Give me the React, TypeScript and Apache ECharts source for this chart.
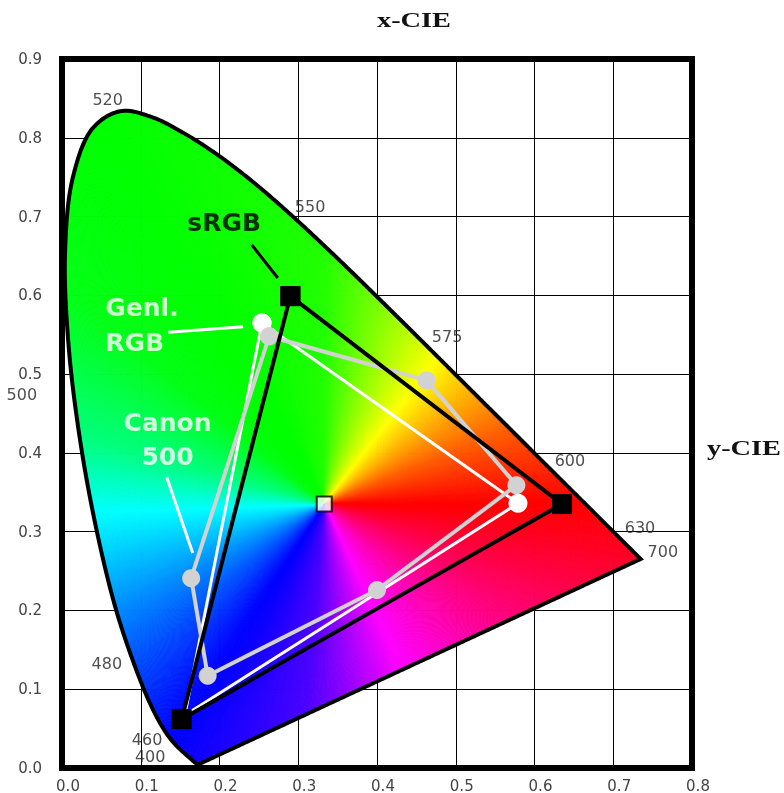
import React, { useEffect, useRef } from 'react';
import * as echarts from 'echarts';

// CIE 1931 spectral locus (5 nm steps, 380–700 nm)
const LOCUS_NM = [380,385,390,395,400,405,410,415,420,425,430,435,440,445,450,455,460,465,470,475,480,485,490,495,500,505,510,515,520,525,530,535,540,545,550,555,560,565,570,575,580,585,590,595,600,605,610,615,620,625,630,635,640,645,650,655,660,665,670,675,680,685,690,695,700];
const LOCUS_X = [0.1741,0.1740,0.1738,0.1736,0.1733,0.1730,0.1726,0.1721,0.1714,0.1703,0.1689,0.1669,0.1644,0.1611,0.1566,0.1510,0.1440,0.1355,0.1241,0.1096,0.0913,0.0687,0.0454,0.0235,0.0082,0.0039,0.0139,0.0389,0.0743,0.1142,0.1547,0.1929,0.2296,0.2658,0.3016,0.3373,0.3731,0.4087,0.4441,0.4788,0.5125,0.5448,0.5752,0.6029,0.6270,0.6482,0.6658,0.6801,0.6915,0.7006,0.7079,0.7140,0.7190,0.7230,0.7260,0.7283,0.7300,0.7311,0.7320,0.7327,0.7334,0.7340,0.7344,0.7346,0.7347];
const LOCUS_Y = [0.0050,0.0050,0.0049,0.0049,0.0048,0.0048,0.0048,0.0048,0.0051,0.0058,0.0069,0.0086,0.0109,0.0138,0.0177,0.0227,0.0297,0.0399,0.0578,0.0868,0.1327,0.2007,0.2950,0.4127,0.5384,0.6548,0.7502,0.8120,0.8338,0.8262,0.8059,0.7816,0.7543,0.7243,0.6923,0.6589,0.6245,0.5896,0.5547,0.5202,0.4866,0.4544,0.4242,0.3965,0.3725,0.3514,0.3340,0.3197,0.3083,0.2993,0.2920,0.2859,0.2809,0.2770,0.2740,0.2717,0.2700,0.2689,0.2680,0.2673,0.2666,0.2660,0.2656,0.2654,0.2653];

const WHITE_X = 0.333;
const WHITE_Y = 0.335;

// sRGB primaries (G, R, B)
const SRGB_X = [0.290, 0.635, 0.152];
const SRGB_Y = [0.599, 0.335, 0.062];

// Generic RGB (G, R, B)
const GENL_X = [0.254, 0.579, 0.156];
const GENL_Y = [0.565, 0.336, 0.067];

// Canon 500 (G, Y, R, M, B, C)
const CANON_X = [0.263, 0.463, 0.577, 0.400, 0.185, 0.164];
const CANON_Y = [0.548, 0.492, 0.359, 0.226, 0.117, 0.241];

// wavelength labels
const WL_TEXT = ['520', '550', '575', '600', '630', '700', '500', '480', '460', '400'];
const WL_X = [0.058, 0.315, 0.489, 0.645, 0.734, 0.763, -0.051, 0.057, 0.108, 0.112];
const WL_Y = [0.848, 0.713, 0.548, 0.390, 0.305, 0.275, 0.474, 0.133, 0.036, 0.014];

// annotation texts
const NOTE_TEXT = ['sRGB', 'Genl.', 'RGB', 'Canon', '500'];
const NOTE_X = [0.206, 0.055, 0.055, 0.134, 0.134];
const NOTE_Y = [0.692, 0.584, 0.540, 0.438, 0.396];
const NOTE_COLOR = ['#000', '#fff', '#fff', '#fff', '#fff'];
const NOTE_ALIGN = ['center', 'left', 'left', 'center', 'center'];

// pointer lines
const POINTER_X1 = [0.241, 0.135, 0.133];
const POINTER_Y1 = [0.664, 0.553, 0.369];
const POINTER_X2 = [0.274, 0.230, 0.166];
const POINTER_Y2 = [0.622, 0.560, 0.273];
const POINTER_COLOR = ['#000', '#fff', '#fff'];

const X_MIN = 0, X_MAX = 0.8, Y_MIN = 0, Y_MAX = 0.9, STEP = 0.1;

// hue as a function of angle around the white point
const HUE_STOPS: number[][] = [[0, 0], [22, 22], [52, 60], [90, 112], [140, 125], [165, 150], [182, 180], [235, 238], [265, 258], [295, 300], [360, 360]];

function hueAt(a: number) {
  for (let i = 1; i < HUE_STOPS.length; i++) {
    const [a0, h0] = HUE_STOPS[i - 1];
    const [a1, h1] = HUE_STOPS[i];
    if (a <= a1) return h0 + ((a - a0) / (a1 - a0)) * (h1 - h0);
  }
  return 360;
}

function hsvColor(h: number) {
  h = ((h % 360) + 360) % 360;
  const x = 1 - Math.abs(((h / 60) % 2) - 1);
  let r = 0, g = 0, b = 0;
  if (h < 60) { r = 1; g = x; }
  else if (h < 120) { r = x; g = 1; }
  else if (h < 180) { g = 1; b = x; }
  else if (h < 240) { g = x; b = 1; }
  else if (h < 300) { r = x; b = 1; }
  else { r = 1; b = x; }
  return `rgb(${Math.round(r * 255)},${Math.round(g * 255)},${Math.round(b * 255)})`;
}

// centripetal Catmull-Rom through pixel points (rendering only)
function smoothPath(p: number[][]) {
  const out: number[][] = [p[0]];
  const n = p.length;
  for (let i = 0; i < n - 1; i++) {
    const P0 = p[Math.max(0, i - 1)], P1 = p[i], P2 = p[i + 1], P3 = p[Math.min(n - 1, i + 2)];
    const d = (a: number[], b: number[]) => Math.pow(Math.hypot(b[0] - a[0], b[1] - a[1]), 0.5) + 1e-4;
    const t0 = 0, t1 = t0 + d(P0, P1), t2 = t1 + d(P1, P2), t3 = t2 + d(P2, P3);
    const len = Math.hypot(P2[0] - P1[0], P2[1] - P1[1]);
    const steps = Math.max(1, Math.ceil(len / 2));
    for (let s = 1; s <= steps; s++) {
      const t = t1 + ((t2 - t1) * s) / steps;
      const lerp = (A: number[], B: number[], ta: number, tb: number) => [
        ((tb - t) / (tb - ta)) * A[0] + ((t - ta) / (tb - ta)) * B[0],
        ((tb - t) / (tb - ta)) * A[1] + ((t - ta) / (tb - ta)) * B[1],
      ];
      const A1 = lerp(P0, P1, t0, t1), A2 = lerp(P1, P2, t1, t2), A3 = lerp(P2, P3, t2, t3);
      const B1 = lerp(A1, A2, t0, t2), B2 = lerp(A2, A3, t1, t3);
      out.push(lerp(B1, B2, t1, t2));
    }
  }
  return out;
}

function closed(xs: number[], ys: number[]) {
  const d = xs.map((x, i) => [x, ys[i]]);
  d.push([xs[0], ys[0]]);
  return d;
}

export default function App() {
  const ref = useRef<HTMLDivElement>(null);
  useEffect(() => {
    if (!ref.current) return;
    const chart = echarts.init(ref.current, undefined, { renderer: 'svg' });

    const gamutSeries = {
      type: 'custom',
      z: 1,
      silent: true,
      clip: false,
      data: [[WHITE_X, WHITE_Y]],
      renderItem: (_params: any, api: any) => {
        const raw = LOCUS_X.map((x, i) => api.coord([x, LOCUS_Y[i]]));
        const curve = smoothPath(raw);
        // straight line of purples back to the start
        const a = curve[curve.length - 1], b = curve[0];
        const plen = Math.hypot(b[0] - a[0], b[1] - a[1]);
        const pn = Math.ceil(plen / 2);
        const boundary = curve.slice();
        for (let k = 1; k <= pn; k++) boundary.push([a[0] + ((b[0] - a[0]) * k) / pn, a[1] + ((b[1] - a[1]) * k) / pn]);
        const w = api.coord([WHITE_X, WHITE_Y]);
        const children: any[] = [];
        for (let i = 0; i < boundary.length - 1; i++) {
          const p0 = boundary[i], p1 = boundary[i + 1];
          const mx = (p0[0] + p1[0]) / 2, my = (p0[1] + p1[1]) / 2;
          let ang = (Math.atan2(-(my - w[1]), mx - w[0]) * 180) / Math.PI;
          if (ang < 0) ang += 360;
          const c = hsvColor(hueAt(ang));
          children.push({
            type: 'polygon',
            shape: { points: [w, p0, p1] },
            style: { fill: c, stroke: c, lineWidth: 1, lineJoin: 'round' },
            silent: true,
          });
        }
        children.push({
          type: 'polygon',
          shape: { points: boundary.slice(0, boundary.length - 1) },
          style: { fill: 'none', stroke: '#000', lineWidth: 4, lineJoin: 'miter', miterLimit: 20 },
          silent: true,
        });
        return { type: 'group', children };
      },
    };

    const axisLabelBase = { color: '#444', fontSize: 15, fontFamily: 'DejaVu Sans' };

    chart.setOption({
      animation: false,
      grid: { left: 62, right: 92, top: 59, bottom: 25, show: true, borderColor: '#000', borderWidth: 6, backgroundColor: 'transparent' },
      xAxis: {
        type: 'value', min: X_MIN, max: X_MAX, interval: STEP,
        axisLine: { show: false }, axisTick: { show: false },
        splitLine: { show: true, lineStyle: { color: '#000', width: 1 } },
        axisLabel: { ...axisLabelBase, margin: 10, padding: [0, 0, 0, 12], formatter: (v: number) => v.toFixed(1) },
      },
      yAxis: {
        type: 'value', min: Y_MIN, max: Y_MAX, interval: STEP,
        axisLine: { show: false }, axisTick: { show: false },
        splitLine: { show: true, lineStyle: { color: '#000', width: 1 } },
        axisLabel: { ...axisLabelBase, margin: 20, formatter: (v: number) => v.toFixed(1) },
      },
      graphic: [
        { type: 'text', x: 414, y: 20, scaleX: 1.35, z: 100, style: { text: 'x-CIE', fontFamily: 'Liberation Serif', fontWeight: 'bold', fontSize: 21, fill: '#111', textAlign: 'center', textVerticalAlign: 'middle' } },
        { type: 'text', x: 744, y: 448, scaleX: 1.35, z: 100, style: { text: 'y-CIE', fontFamily: 'Liberation Serif', fontWeight: 'bold', fontSize: 21, fill: '#111', textAlign: 'center', textVerticalAlign: 'middle' } },
      ],
      series: [
        gamutSeries,
        {
          type: 'line', z: 3, silent: true, clip: false,
          data: [
            { value: [GENL_X[0], GENL_Y[0]] },
            { value: [GENL_X[1], GENL_Y[1]] },
            { value: [GENL_X[2], GENL_Y[2]], symbol: 'none' },
            { value: [GENL_X[0], GENL_Y[0]] },
          ],
          symbol: 'circle', symbolSize: 19,
          itemStyle: { color: '#fff' },
          lineStyle: { color: '#fff', width: 3 },
        },
        {
          type: 'line', z: 4, silent: true, clip: false,
          data: closed(CANON_X, CANON_Y),
          symbol: 'circle', symbolSize: 18,
          itemStyle: { color: '#d2d2d2' },
          lineStyle: { color: '#d2d2d2', width: 4 },
        },
        {
          type: 'line', z: 5, silent: true, clip: false,
          data: closed(SRGB_X, SRGB_Y),
          symbol: 'rect', symbolSize: 20,
          itemStyle: { color: '#000' },
          lineStyle: { color: '#000', width: 4 },
        },
        {
          type: 'scatter', z: 6, silent: true, clip: false,
          data: [[WHITE_X, WHITE_Y]],
          symbol: 'rect', symbolSize: 15,
          itemStyle: { color: '#fff', borderColor: '#000', borderWidth: 2 },
        },
        {
          type: 'lines', coordinateSystem: 'cartesian2d', z: 6, silent: true,
          data: POINTER_X1.map((x, i) => ({
            coords: [[x, POINTER_Y1[i]], [POINTER_X2[i], POINTER_Y2[i]]],
            lineStyle: { color: POINTER_COLOR[i], width: 3, opacity: 1 },
          })),
        },
        {
          type: 'scatter', z: 7, silent: true, clip: false,
          symbolSize: 1, itemStyle: { color: 'rgba(0,0,0,0)' },
          data: WL_TEXT.map((t, i) => ({ name: t, value: [WL_X[i], WL_Y[i]] })),
          label: { show: true, position: 'inside', formatter: '{b}', color: '#222', fontSize: 16, fontFamily: 'DejaVu Sans' },
        },
        {
          type: 'scatter', z: 8, silent: true, clip: false,
          symbolSize: 1, itemStyle: { color: 'rgba(0,0,0,0)' },
          data: NOTE_TEXT.map((t, i) => ({ name: t, value: [NOTE_X[i], NOTE_Y[i]], label: { color: NOTE_COLOR[i], align: NOTE_ALIGN[i] } })),
          label: { show: true, position: 'inside', formatter: '{b}', fontSize: 25, fontWeight: 'bold', fontFamily: 'DejaVu Sans' },
        },
      ],
    });
    return () => chart.dispose();
  }, []);
  return <div ref={ref} style={{ position: 'fixed', left: 0, top: 0, width: 784, height: 793 }} />;
}
